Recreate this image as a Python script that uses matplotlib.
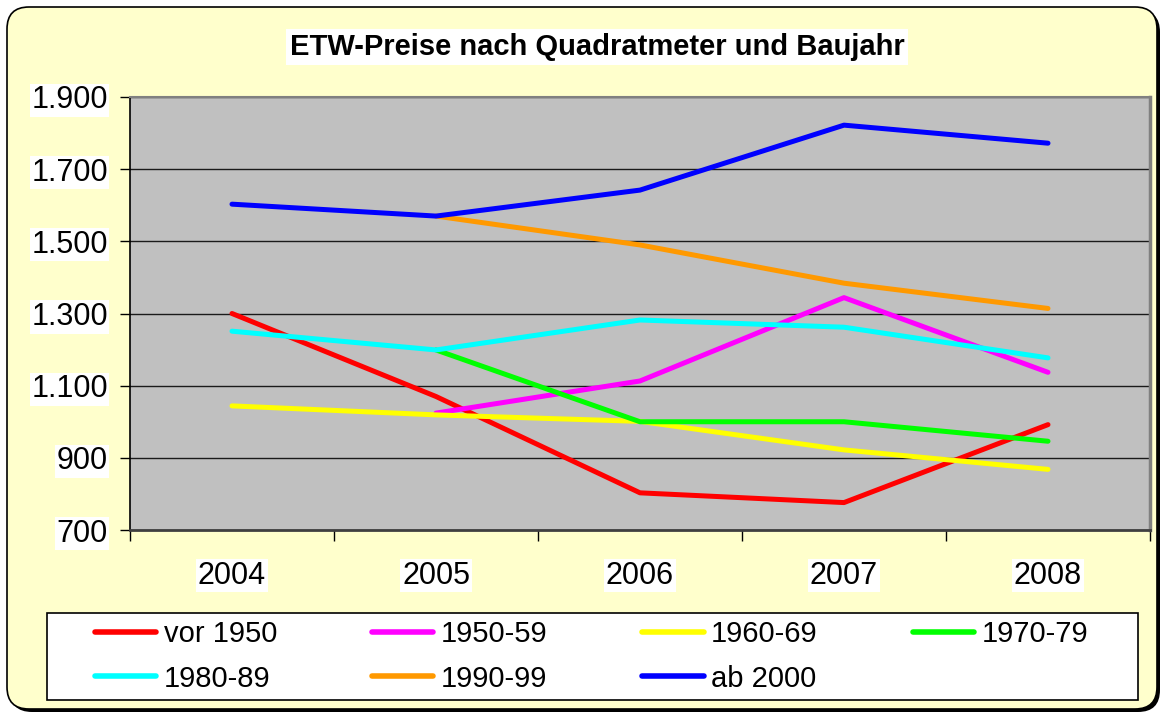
import numpy as np
import matplotlib
matplotlib.use("Agg")
import matplotlib.pyplot as plt
from matplotlib.patches import FancyBboxPatch, Rectangle
from matplotlib.ticker import FuncFormatter

plt.rcParams['font.family'] = ['Liberation Sans', 'DejaVu Sans']

years = ['2004', '2005', '2006', '2007', '2008']
nan = np.nan
vor_1950 = [1300, 1070, 803, 776, 992]
b1950_59 = [nan, 1024, 1113, 1344, 1137]
b1960_69 = [1044, 1019, 1001, 922, 868]
b1970_79 = [nan, 1199, 1000, 1000, 946]
b1980_89 = [1251, 1199, 1282, 1262, 1177]
b1990_99 = [nan, 1570, 1490, 1384, 1314]
ab_2000 = [1603, 1570, 1642, 1822, 1772]

series = [vor_1950, b1950_59, b1960_69, b1970_79, b1980_89, b1990_99, ab_2000]
labels = ['vor 1950', '1950-59', '1960-69', '1970-79', '1980-89', '1990-99', 'ab 2000']
colors = ['#FF0000', '#FF00FF', '#FFFF00', '#00FF00', '#00FFFF', '#FF9900', '#0000FF']

W, H = 1164, 714
fig = plt.figure(figsize=(W/100, H/100), dpi=100)
fig.patch.set_facecolor('white')

# rounded chart-area frame (in inches)
shadow = FancyBboxPatch((0.10, 0.02), 11.50, 7.02, boxstyle='round,pad=0,rounding_size=0.22',
                        transform=fig.dpi_scale_trans, facecolor='black', edgecolor='none', zorder=0)
fig.add_artist(shadow)
frame = FancyBboxPatch((0.07, 0.05), 11.50, 7.02, boxstyle='round,pad=0,rounding_size=0.22',
                       transform=fig.dpi_scale_trans, facecolor='#FFFFCC', edgecolor='black',
                       linewidth=1.2, zorder=0)
fig.add_artist(frame)

# legend box
fig.add_artist(Rectangle((47/W, 1-700/H), (1138-47)/W, (700-613)/H, transform=fig.transFigure,
                         facecolor='white', edgecolor='black', linewidth=1.2, zorder=1))

ax = fig.add_axes([130/W, 1-530/H, 1020/W, 433/H])
ax.set_facecolor('#C0C0C0')
x = np.arange(len(years))
lines = []
for s, lab, c in zip(series, labels, colors):
    ln, = ax.plot(x, s, color=c, linewidth=3.6, label=lab, solid_capstyle='round', zorder=3)
    lines.append(ln)

ax.set_xlim(-0.5, 4.5)
ax.set_ylim(700, 1900)
ax.set_yticks(np.arange(700, 1901, 200))
ax.yaxis.set_major_formatter(FuncFormatter(lambda v, p: f'{int(v):,}'.replace(',', '.')))
ax.grid(axis='y', color='#1a1a1a', linewidth=1.0, zorder=1)
ax.set_axisbelow(True)

ax.set_xticks(np.arange(-0.5, 5, 1))
ax.set_xticklabels([])
ax.set_xticks(x, minor=True)
ax.set_xticklabels(years, minor=True)
ax.tick_params(axis='x', which='major', length=8, width=1, color='black', direction='out')
ax.tick_params(axis='x', which='minor', length=0, pad=22, labelsize=22)
ax.tick_params(axis='y', length=7, width=1, color='black', pad=9, labelsize=22)
for t in ax.get_yticklabels() + ax.get_xticklabels(minor=True):
    t.set_bbox(dict(facecolor='white', edgecolor='none', pad=1))

ax.spines['left'].set_color('black')
ax.spines['left'].set_linewidth(1.2)
ax.spines['bottom'].set_color('#404040')
ax.spines['bottom'].set_linewidth(2)
ax.spines['top'].set_color('#808080')
ax.spines['top'].set_linewidth(1.5)
ax.spines['right'].set_color('#808080')
ax.spines['right'].set_linewidth(2.5)

fig.text(597/W, 1-47/H, 'ETW-Preise nach Quadratmeter und Baujahr', ha='center', va='center',
         fontsize=21, fontweight='bold', bbox=dict(facecolor='white', edgecolor='none', pad=3))

order = [0, 4, 1, 5, 2, 6, 3]
leg = fig.legend([lines[i] for i in order], [labels[i] for i in order], ncol=4,
                 loc='center left', bbox_to_anchor=(95/W, 1-700/H, (1088-95)/W, (700-613)/H),
                 mode='expand', fontsize=21, handlelength=2.1, handletextpad=0.25,
                 borderaxespad=0, frameon=False, labelspacing=0.55, borderpad=0)
leg.set_zorder(2)
for h in leg.legend_handles:
    h.set_linewidth(4)

fig.savefig('out.png', dpi=100)
